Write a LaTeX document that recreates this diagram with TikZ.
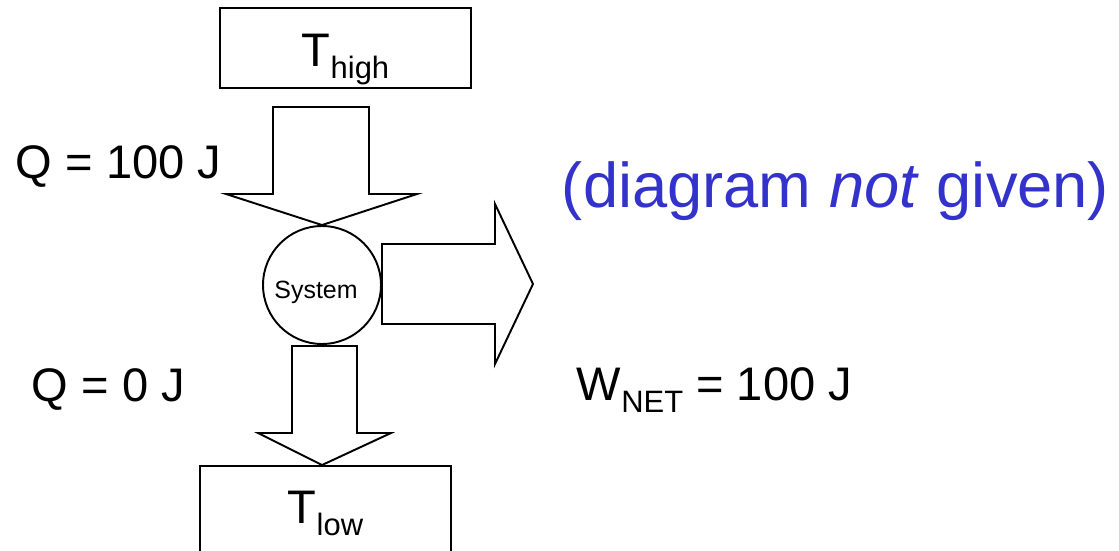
\documentclass[tikz,border=0pt]{standalone}
\usepackage{fontspec}
\setmainfont{Liberation Sans}
\usepackage{xcolor}
\usepackage{tikz}
\definecolor{azulnota}{RGB}{51,51,204}
\newcommand{\bajo}[1]{\raisebox{-0.27em}{\fontsize{17.6}{20}\selectfont #1}}

\begin{document}
\begin{tikzpicture}[x=0.02cm, y=-0.02cm, line width=1.1pt,
  grande/.style={font=\fontsize{26.8}{32}\selectfont, inner sep=0, anchor=base west},
  caja/.style={draw, minimum width=5.02cm, minimum height=1.6cm, inner sep=0}]
\clip (0,0) rectangle (1119,551);
% depósitos
\node[caja] (caliente) at (345.5,48) {};
\node[grande] (tcal) at (301,66) {T\bajo{high}};
\node[caja, minimum height=1.8cm] (frio) at (325.5,511) {};
\node[grande] (tfri) at (287,523) {T\bajo{low}};
% sistema
\node[draw, circle, minimum size=2.36cm, inner sep=0] (sis) at (322,285) {};
\node[font=\fontsize{14.2}{16}\selectfont, inner sep=0, anchor=base] (sislbl) at (316,298) {System};
% flechas de bloque
\draw (273,107) -- (273,194) -- (226,194) -- (sis.north) -- (417,194) -- (369,194) -- (369,107) -- cycle;
\draw (382,244) -- (495,244) -- (495,204) -- (533,284) -- (495,364) -- (495,324) -- (382,324) -- cycle;
\draw (292,346) -- (292,433) -- (258,433) -- (frio.north -| sis.south) -- (391,433) -- (357,433) -- (357,346) -- cycle;
% rótulos
\node[grande] (qcal) at (15,178) {Q = 100 J};
\node[grande] (qfri) at (31,401) {Q = 0 J};
\node[grande] (trab) at (576,400) {W\bajo{NET} = 100 J};
\node[grande, font=\fontsize{36}{40}\selectfont, text=azulnota] (nota) at (561,207) {(diagram \textit{not} given)};
\end{tikzpicture}
\end{document}
